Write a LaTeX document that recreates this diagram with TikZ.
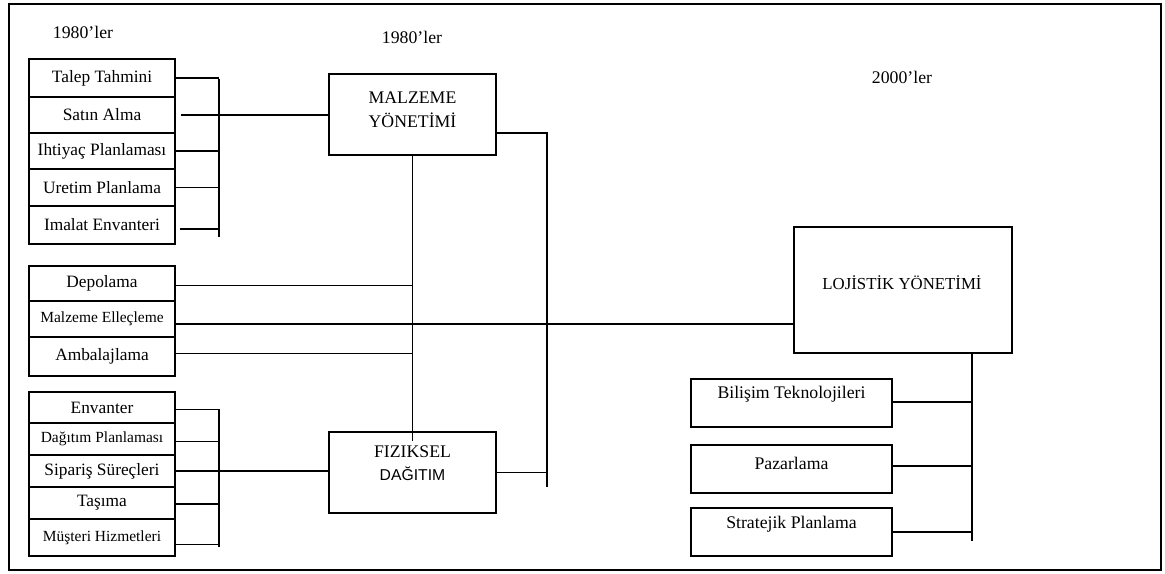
\documentclass[tikz,border=0pt]{standalone}
\usepackage{fontspec}
\setmainfont{Liberation Serif}
\newfontfamily\sansf{Liberation Sans}
\begin{document}
\begin{tikzpicture}[x=0.75pt,y=-0.75pt,
  cell/.style={draw, line width=1.8pt, minimum width=109.5pt, inner sep=0pt, font=\fontsize{13}{15}\selectfont},
  smallcell/.style={cell, font=\fontsize{11.6}{14}\selectfont},
  bigbox/.style={draw, line width=1.9pt, inner sep=0pt},
  lbl/.style={font=\fontsize{13.3}{15}\selectfont, inner sep=0pt, align=center},
  conn/.style={line width=0.8pt}]
\useasboundingbox (0,0) rectangle (1165,574);
\draw[line width=1.7pt] (9,4) rectangle (1161,570);

% titles
\node[lbl] (t1) at (83,32) {1980’ler};
\node[lbl] (t2) at (412,37) {1980’ler};
\node[lbl] (t3) at (902,77) {2000’ler};

% group 1
\node[cell, minimum height=28.5pt] (tt) at (102,78) {Talep Tahmini};
\node[cell, minimum height=27pt] (sa) at (102,115) {Satın Alma};
\node[cell, minimum height=27pt] (ip) at (102,151) {Ihtiyaç Planlaması};
\node[cell, minimum height=27.75pt] (up) at (102,187.5) {Uretim Planlama};
\node[cell, minimum height=28.5pt] (ie) at (102,225) {Imalat Envanteri};

% group 2
\node[cell, minimum height=26.25pt] (dp) at (102,283.5) {Depolama};
\node[smallcell, minimum height=27pt] (me) at (102,319) {Malzeme Elleçleme};
\node[cell, minimum height=29.25pt] (am) at (102,356.5) {Ambalajlama};

% group 3
\node[cell, minimum height=23.25pt] (en) at (102,407.5) {Envanter};
\node[smallcell, minimum height=24pt] (dpl) at (102,439) {Dağıtım Planlaması};
\node[cell, minimum height=24pt] (ss) at (102,471) {Sipariş Süreçleri};
\node[cell, minimum height=24pt] (ta) at (102,503) {Taşıma};
\node[smallcell, minimum height=27.75pt] (mh) at (102,537.5) {Müşteri Hizmetleri};

% central boxes
\node[bigbox, minimum width=125.25pt, minimum height=60.75pt] (mz) at (412.5,114.5) {};
\node[lbl, font=\fontsize{13.3}{18}\selectfont] (mzt) at (412.5,110) {MALZEME\\YÖNETİMİ};
\node[bigbox, minimum width=125.25pt, minimum height=60.75pt] (fd) at (412.5,472.5) {};
\node[lbl, font=\fontsize{13.3}{17}\selectfont] (fdt) at (412.5,463) {FIZIKSEL\\{\sansf\fontsize{11.8}{17}\selectfont DAĞITIM}};

% logistics
\node[bigbox, minimum width=163.5pt, minimum height=94.5pt] (lj) at (903,290) {};
\node[lbl, font=\fontsize{12.6}{15}\selectfont] (ljt) at (902,283) {LOJİSTİK YÖNETİMİ};

% right boxes
\node[bigbox, minimum width=150.75pt, minimum height=36pt] (bt) at (791.5,403) {};
\node[lbl] (btt) at (791.5,394) {Bilişim Teknolojileri};
\node[bigbox, minimum width=150.75pt, minimum height=36pt] (pz) at (791.5,469) {};
\node[lbl] (pzt) at (791.5,463) {Pazarlama};
\node[bigbox, minimum width=150.75pt, minimum height=36pt] (sp) at (791.5,532) {};
\node[lbl] (spt) at (791.5,524) {Stratejik Planlama};

% coordinates
\coordinate (b1top) at (219,79);
\coordinate (b1bot) at (219,237);
\coordinate (b2top) at (219,409);
\coordinate (b2bot) at (219,547);
\coordinate (rtop) at (547,133);
\coordinate (rbot) at (547,487);
\coordinate (ljb) at (972,541);

% group 1 connectors
\draw[conn] (b1top) -- (b1bot);
\draw[conn] (tt.east) -- (tt.east -| b1top);
\draw[conn] ([xshift=3.75pt]sa.east) -- (sa.east -| mz.west);
\draw[conn] (ip.east) -- (ip.east -| b1top);
\draw[conn] (up.east) -- (up.east -| b1top);
\draw[conn] ([xshift=3pt,yshift=-3pt]ie.east) -- ([yshift=-3pt]ie.east -| b1top);

% material management links
\draw[conn] (mz.south) -- ([yshift=-7.5pt]fd.north);
\draw[conn] ([yshift=-1.8pt]dp.east) -- ([yshift=-1.8pt]dp.east -| mz.south);
\draw[conn] ([yshift=-3.75pt]me.east) -- ([yshift=-3.75pt]me.east -| lj.west);
\draw[conn] ([yshift=2.6pt]am.east) -- ([yshift=2.6pt]am.east -| mz.south);
\draw[conn] (mz.east |- rtop) -- (rtop) -- (rbot);
\draw[conn] (fd.east) -- (fd.east -| rtop);

% group 3 connectors
\draw[conn] (b2top) -- (b2bot);
\draw[conn] ([yshift=-1.2pt]en.east) -- ([yshift=-1.2pt]en.east -| b2top);
\draw[conn] ([yshift=-2.2pt]dpl.east) -- ([yshift=-2.2pt]dpl.east -| b2top);
\draw[conn] (ss.east) -- (ss.east -| fd.west);
\draw[conn] ([yshift=-0.75pt]ta.east) -- ([yshift=-0.75pt]ta.east -| b2top);
\draw[conn] ([yshift=-4.9pt]mh.east) -- ([yshift=-4.9pt]mh.east -| b2top);

% logistics connectors
\draw[conn] (lj.south -| ljb) -- (ljb);
\draw[conn] ([yshift=0.75pt]bt.east) -- ([yshift=0.75pt]bt.east -| ljb);
\draw[conn] ([yshift=2.25pt]pz.east) -- ([yshift=2.25pt]pz.east -| ljb);
\draw[conn] (sp.east) -- (sp.east -| ljb);
\end{tikzpicture}
\end{document}
